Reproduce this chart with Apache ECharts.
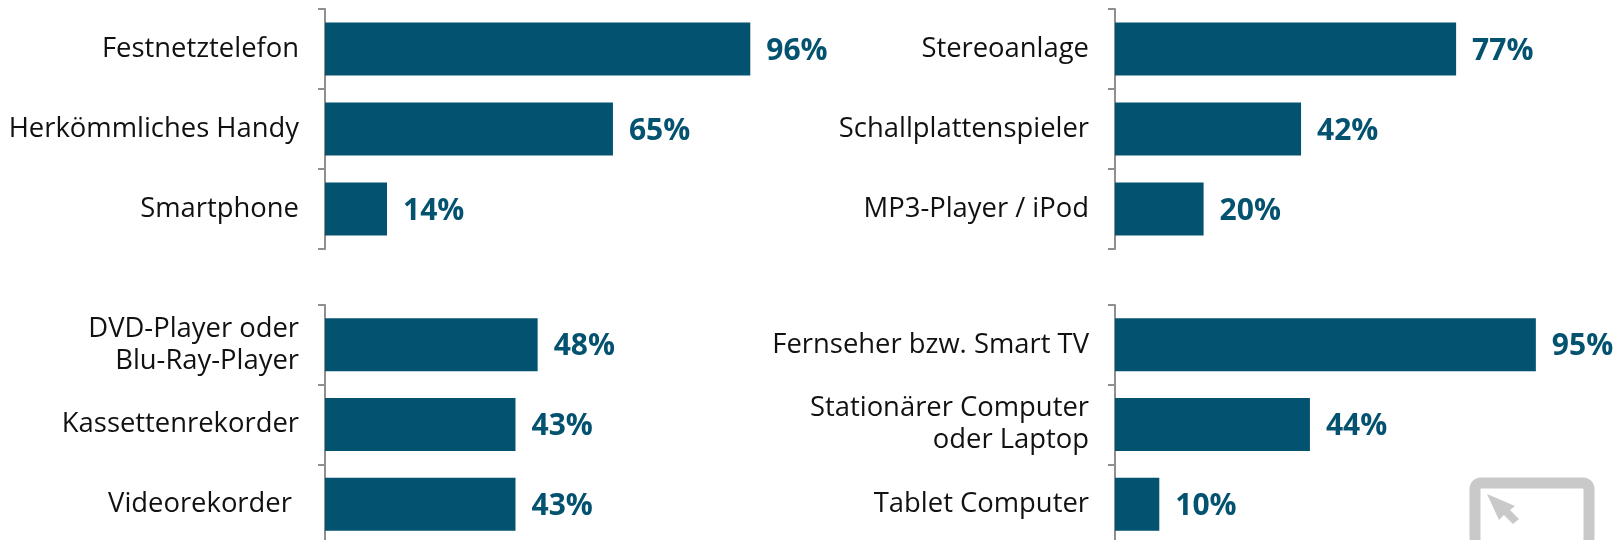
<!DOCTYPE html>
<html>
<head>
<meta charset="UTF-8">
<title>Geräte</title>
<style>
html, body { margin: 0; padding: 0; background: #fff; }
#main { width: 1617px; height: 540px; }
</style>
</head>
<body>
<div id="main"></div>
<script src="https://cdn.jsdelivr.net/npm/echarts@6/dist/echarts.min.js"></script>
<script>
// oben links
var telefonNamen = ['Festnetztelefon', 'Herkömmliches Handy', 'Smartphone'];
var telefonWerte = [96, 65, 14];
// oben rechts
var audioNamen = ['Stereoanlage', 'Schallplattenspieler', 'MP3-Player / iPod'];
var audioWerte = [77, 42, 20];
// unten links
var videoNamen = ['DVD-Player oder\nBlu-Ray-Player', 'Kassettenrekorder', 'Videorekorder '];
var videoWerte = [48, 43, 43];
// unten rechts
var bildNamen = ['Fernseher bzw. Smart TV', 'Stationärer Computer\noder Laptop', 'Tablet Computer'];
var bildWerte = [95, 44, 10];

var blau = '#03526f';
var grau = '#8f8f8f';
var schrift = '"Open Sans", sans-serif';

var panels = [
	{ namen: telefonNamen, werte: telefonWerte, left: 325, top: 9, height: 240 },
	{ namen: audioNamen, werte: audioWerte, left: 1115, top: 9, height: 240 },
	{ namen: videoNamen, werte: videoWerte, left: 325, top: 305, height: 239 },
	{ namen: bildNamen, werte: bildWerte, left: 1115, top: 305, height: 239 }
];

var chart = echarts.init(document.getElementById('main'), null, { renderer: 'canvas' });

var option = {
	animation: false,
	backgroundColor: '#fff',
	grid: [],
	xAxis: [],
	yAxis: [],
	series: [],
	graphic: [
		{
			// Logo unten rechts
			type: 'rect',
			shape: { x: 1475, y: 483, width: 114, height: 90, r: 6 },
			style: { fill: 'none', stroke: '#c9c9c9', lineWidth: 11 }
		},
		{
			type: 'polygon',
			shape: { points: [[1487, 494], [1515, 506], [1510, 510], [1519, 519], [1513, 524], [1504, 515], [1499, 520]] },
			style: { fill: '#c9c9c9' }
		}
	]
};

panels.forEach(function(p, i) {
	// outerBoundsMode aus, sonst schrumpft das untere Raster auf die Canvas-Hoehe
	option.grid.push({ left: p.left, top: p.top, width: 443, height: p.height, outerBoundsMode: 'none' });
	option.xAxis.push({ type: 'value', gridIndex: i, min: 0, max: 100, show: false });
	option.yAxis.push({
		type: 'category',
		gridIndex: i,
		inverse: true,
		data: p.namen,
		axisLine: { show: true, lineStyle: { color: grau, width: 2 } },
		axisTick: { show: true, length: 7, lineStyle: { color: grau, width: 2 } },
		axisLabel: {
			color: '#111',
			fontFamily: schrift,
			fontSize: 27.4,
			lineHeight: 32,
			margin: 26,
			padding: [3, 0, 0, 0],
			align: 'right'
		}
	});
	option.series.push({
		type: 'bar',
		xAxisIndex: i,
		yAxisIndex: i,
		data: p.werte,
		barWidth: 53,
		itemStyle: { color: blau },
		label: {
			show: true,
			position: 'right',
			distance: 16,
			offset: [0, 2],
			formatter: '{c}%',
			color: blau,
			fontFamily: schrift,
			fontWeight: 'bold',
			fontSize: 30
		}
	});
});

chart.setOption(option);
</script>
</body>
</html>
